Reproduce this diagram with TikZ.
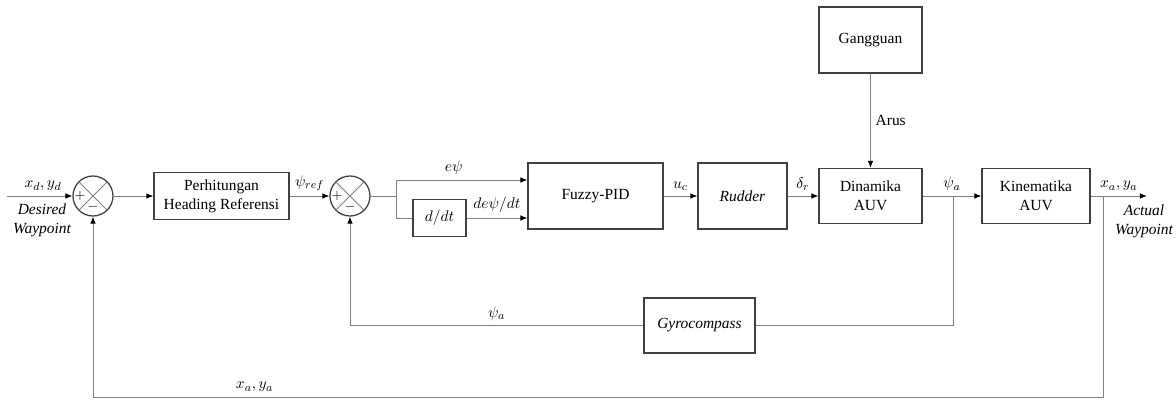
\documentclass[tikz,border=0pt]{standalone}
\usepackage{fontspec}
\setmainfont{Liberation Serif}
\usetikzlibrary{arrows.meta}

\tikzset{
  blok/.style={draw=black!75, line width=0.9pt, align=center, inner sep=2pt},
  jumlah/.style={circle, draw=black!75, line width=0.9pt, minimum size=1cm, inner sep=0pt},
  garis/.style={draw=black!50, line width=0.7pt},
  panah/.style={garis, -{Latex[length=5pt,width=4pt,color=black]}},
  tanda/.style={font=\fontsize{10}{10}\selectfont, inner sep=0pt},
}

\begin{document}
\begin{tikzpicture}[x=0.025cm, y=-0.025cm, font=\fontsize{11}{13.5}\selectfont]
\useasboundingbox (0,0) rectangle (1176,400);
% blok
\node[jumlah] (sumA) at (93,196) {};
\node[blok, minimum width=3.375cm, minimum height=1.175cm] (hitung) at (221.5,196) {Perhitungan\\Heading Referensi};
\node[jumlah] (sumB) at (350,196) {};
\node[blok, minimum width=1.325cm, minimum height=0.925cm] (ddt) at (439.5,218) {$d/dt$};
\node[blok, minimum width=3.375cm, minimum height=1.65cm] (fuzzy) at (595.5,196) {Fuzzy-PID};
\node[blok, minimum width=2.225cm, minimum height=1.65cm] (rudder) at (742.5,196) {\textit{Rudder}};
\node[blok, minimum width=2.575cm, minimum height=1.375cm] (dinamika) at (870.5,196) {Dinamika\\AUV};
\node[blok, minimum width=2.7cm, minimum height=1.375cm] (kinematika) at (1036,196) {Kinematika\\AUV};
\node[blok, minimum width=2.575cm, minimum height=1.65cm] (gangguan) at (870.5,40) {Gangguan};
\node[blok, minimum width=2.775cm, minimum height=1.375cm] (gyro) at (699.5,325.5) {\textit{Gyrocompass}};
% titik bantu
\coordinate (masuk) at (7,196);
\coordinate (cabang) at (396,196);
\coordinate (psiA) at (953,196);
\coordinate (keluarB) at (1103,196);
\coordinate (keluar) at (1147,196);
\coordinate (pojok) at (1103,397);
% penjumlah
\draw[garis] (sumA.north east) -- (sumA.south west) (sumA.north west) -- (sumA.south east);
\draw[garis] (sumB.north east) -- (sumB.south west) (sumB.north west) -- (sumB.south east);
\node[tanda] (plusA) at ([xshift=-0.32cm]sumA.center) {$+$};
\node[tanda] (minA) at ([yshift=-0.27cm]sumA.center) {$-$};
\node[tanda] (plusB) at ([xshift=-0.32cm]sumB.center) {$+$};
\node[tanda] (minB) at ([yshift=-0.27cm]sumB.center) {$-$};
% sinyal maju
\draw[panah] (masuk) -- (sumA.west) node[pos=0.55, above] {$x_d,y_d$};
\node[font=\itshape\fontsize{11}{13.5}\selectfont, align=center] (desired) at (42,220) {Desired\\Waypoint};
\draw[panah] (sumA.east) -- (hitung.west);
\draw[panah] (hitung.east) -- (sumB.west) node[midway, above] {$\psi_{ref}$};
\draw[garis] (sumB.east) -- (cabang);
\draw[panah] (cabang) |- ([yshift=0.4cm]fuzzy.west) node[pos=0.72, above] {$e\psi$};
\draw[garis] (cabang) |- (ddt.west);
\draw[panah] (ddt.east) -- (ddt.east -| fuzzy.west) node[midway, above] {$de\psi/dt$};
\draw[panah] (fuzzy.east) -- (rudder.west) node[midway, above] {$u_c$};
\draw[panah] (rudder.east) -- (dinamika.west) node[midway, above] {$\delta_r$};
\draw[panah] (gangguan) -- (dinamika) node[midway, right] {Arus};
\draw[panah] (dinamika.east) -- (kinematika.west) node[midway, above] {$\psi_a$};
\draw[panah] (kinematika.east) -- (keluar) node[midway, above] {$x_a,y_a$};
\node[font=\itshape\fontsize{11}{13.5}\selectfont, align=center] (actual) at (1144,221) {Actual\\Waypoint};
% umpan balik
\draw[garis] (psiA) |- (gyro.east);
\draw[panah] (gyro.west) -| (sumB.south) node[pos=0.25, above] {$\psi_a$};
\draw[panah] (keluarB) -- (pojok) -| (sumA.south) node[pos=0.42, above] {$x_a,y_a$};
\end{tikzpicture}
\end{document}
